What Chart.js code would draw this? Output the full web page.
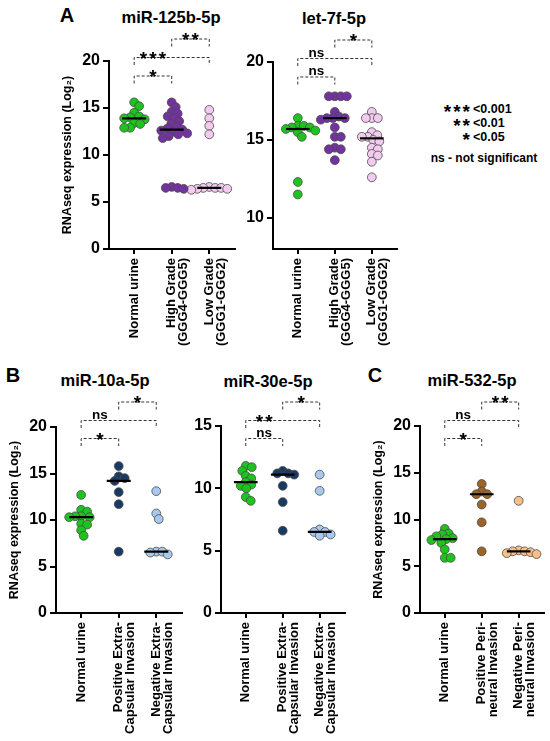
<!DOCTYPE html>
<html>
<head>
<meta charset="utf-8">
<script src="https://cdn.jsdelivr.net/npm/chart.js@4.4.0/dist/chart.umd.min.js"></script>
<style>
    body { margin: 0; background: #fff; width: 550px; height: 741px; position: relative; overflow: hidden;
           font-family: "Liberation Sans", Arial, sans-serif; }
    canvas { position: absolute; }
    .t { position: absolute; font-weight: bold; color: #000; white-space: nowrap; transform: translate(-50%, -50%); line-height: 1; }
    .stars { position: absolute; font-weight: bold; font-size: 19px; letter-spacing: 2px; line-height: 1; }
    .pv { position: absolute; font-weight: bold; font-size: 12.5px; line-height: 1; }
</style>
</head>
<body>
<div class="t" style="left:67px;top:15px;font-size:20px">A</div>
<div class="t" style="left:171px;top:17px;font-size:16.5px">miR-125b-5p</div>
<div class="t" style="left:334px;top:18px;font-size:16.5px">let-7f-5p</div>
<div class="t" style="left:13px;top:375px;font-size:20px">B</div>
<div class="t" style="left:105px;top:380px;font-size:16.5px">miR-10a-5p</div>
<div class="t" style="left:268px;top:381px;font-size:16.5px">miR-30e-5p</div>
<div class="t" style="left:375px;top:375px;font-size:20px">C</div>
<div class="t" style="left:472px;top:380px;font-size:16.5px">miR-532-5p</div>

<div class="stars" style="right:78px;top:102px">***</div><div class="pv" style="left:473px;top:103px">&lt;0.001</div>
<div class="stars" style="right:78px;top:116px">**</div><div class="pv" style="left:473px;top:117px">&lt;0.01</div>
<div class="stars" style="right:78px;top:130px">*</div><div class="pv" style="left:473px;top:131px">&lt;0.05</div>
<div class="t" style="left:484px;top:158px;font-size:12px">ns - not significant</div>

<canvas id="a1"></canvas>
<canvas id="a2"></canvas>
<canvas id="b1"></canvas>
<canvas id="b2"></canvas>
<canvas id="c1"></canvas>

<script>
// categories
const groupsA = ['Normal urine', ['High Grade', '(GGG4-GGG5)'], ['Low Grade', '(GGG1-GGG2)']];
const groupsB = ['Normal urine', ['Positive Extra-', 'Capsular Invasion'], ['Negative Extra-', 'Capsular Invasion']];
const groupsC = ['Normal urine', ['Positive Peri-', 'neural Invasion'], ['Negative Peri-', 'neural Invasion']];

// miR-125b-5p
const mir125Normal = [15.6, 15.2, 14.5, 14.1, 14.0, 13.9, 13.8, 13.4, 13.3, 12.9, 12.9];
const mir125High = [15.6, 15.1, 14.6, 14.4, 14.1, 13.9, 13.6, 13.3, 13.0, 12.8, 12.7, 12.6, 12.5, 12.3, 12.2, 12.0, 11.8, 6.6, 6.5, 6.5, 6.4];
const mir125Low = [14.8, 13.9, 13.1, 12.2, 6.6, 6.5, 6.5, 6.5, 6.4, 6.4, 6.3];

// let-7f-5p
const let7Normal = [16.4, 15.9, 15.9, 15.8, 15.8, 15.7, 15.6, 15.5, 15.2, 12.3, 11.5];
const let7High = [17.8, 17.8, 17.8, 17.8, 16.8, 16.5, 16.4, 16.4, 16.4, 16.3, 15.8, 15.2, 15.2, 14.5, 14.4, 14.4, 13.7];
const let7Low = [16.8, 16.4, 16.4, 16.4, 15.5, 15.3, 15.2, 15.2, 15.0, 14.9, 14.5, 14.4, 14.1, 14.0, 13.6, 12.6];

// miR-10a-5p
const mir10Normal = [12.7, 11.1, 10.9, 10.4, 10.4, 10.3, 10.3, 9.6, 9.5, 8.9, 8.3];
const mir10Pos = [15.8, 14.7, 14.5, 14.2, 13.0, 11.7, 6.6];
const mir10Neg = [13.1, 10.7, 10.1, 6.6, 6.6, 6.5, 6.3];

// miR-30e-5p
const mir30Normal = [11.8, 11.7, 11.4, 11.0, 10.8, 10.5, 10.3, 10.2, 10.0, 9.3, 9.0];
const mir30Pos = [11.4, 11.2, 11.2, 11.1, 10.2, 8.9, 6.6];
const mir30Neg = [11.1, 9.8, 6.7, 6.5, 6.5, 6.3, 6.2];

// miR-532-5p
const mir532Normal = [9.0, 8.5, 8.4, 8.2, 8.0, 7.9, 7.8, 7.5, 6.8, 5.9, 5.9];
const mir532Pos = [13.8, 13.0, 12.7, 12.7, 11.6, 9.7, 6.6];
const mir532Neg = [12.0, 6.7, 6.6, 6.6, 6.5, 6.4, 6.3];

// y ticks
const ticks0to20 = [0, 5, 10, 15, 20];
const ticks8to20 = [10, 15, 20];
const ticks0to15 = [0, 5, 10, 15];

// significance: [group a, group b, label], bottom bracket first
const sig125 = [[1, 2, '*'], [1, 3, '***'], [2, 3, '**']];
const sigLet7 = [[1, 2, 'ns'], [1, 3, 'ns'], [2, 3, '*']];
const sig10 = [[1, 2, '*'], [1, 3, 'ns'], [2, 3, '*']];
const sig30 = [[1, 2, 'ns'], [1, 3, '**'], [2, 3, '*']];
const sig532 = [[1, 2, '*'], [1, 3, 'ns'], [2, 3, '**']];

const green = '#1fc31f';

Chart.defaults.font.family = '"Liberation Sans", Arial, sans-serif';
Chart.defaults.color = '#000';

function median(arr) {
    const s = [...arr].sort((a, b) => a - b);
    const m = Math.floor(s.length / 2);
    return s.length % 2 ? s[m] : (s[m - 1] + s[m]) / 2;
}

// simple beeswarm, offsets worked out in pixels
function swarm(values, center, xs, ys, gap) {
    const perX = (xs.right - xs.left) / (xs.max - xs.min);
    const placed = [];
    return values.map(v => {
        const py = ys.getPixelForValue(v);
        let dx = 0;
        for (let k = 0; k < 400; k++) {
            const cand = (k % 2 ? 1 : -1) * Math.ceil(k / 2) * 0.5;
            if (placed.every(p => (p.x - cand) ** 2 + (p.y - py) ** 2 >= gap * gap)) {
                dx = cand;
                break;
            }
        }
        placed.push({ x: dx, y: py });
        return { x: center + dx / perX, y: v };
    });
}

const bracketPlugin = {
    id: 'brackets',
    afterDraw(chart) {
        const cfg = chart.options.plugins.brackets;
        if (!cfg) return;
        const ctx = chart.ctx;
        const xs = chart.scales.x;
        const top = chart.chartArea.top;
        ctx.save();
        cfg.sig.forEach((s, i) => {
            const y = top + cfg.levels[i];
            const xa = xs.getPixelForValue(s[0]);
            const xb = xs.getPixelForValue(s[1]);
            ctx.setLineDash([3, 2]);
            ctx.lineWidth = 1;
            ctx.strokeStyle = '#333';
            ctx.beginPath();
            ctx.moveTo(xa, y + 7.5);
            ctx.lineTo(xa, y);
            ctx.lineTo(xb, y);
            ctx.lineTo(xb, y + 7.5);
            ctx.stroke();
            ctx.setLineDash([]);
            const lx = xs.getPixelForValue(s[0] + 0.5);
            ctx.fillStyle = '#000';
            ctx.textAlign = 'center';
            ctx.textBaseline = 'alphabetic';
            if (s[2] === 'ns') {
                ctx.font = 'bold 13.5px "Liberation Sans", Arial, sans-serif';
                ctx.fillText('ns', lx, y - 2);
            } else {
                ctx.font = 'bold 19px "Liberation Sans", Arial, sans-serif';
                ctx.letterSpacing = '2px';
                ctx.fillText(s[2], lx + 1, y + 7);
                ctx.letterSpacing = '0px';
            }
        });
        ctx.restore();
    }
};

function makePanel(p) {
    const canvas = document.getElementById(p.id);
    canvas.width = p.w;
    canvas.height = p.h;
    canvas.style.left = p.left + 'px';
    canvas.style.top = p.top + 'px';
    canvas.style.width = p.w + 'px';
    canvas.style.height = p.h + 'px';

    const datasets = [];
    p.series.forEach((vals, i) => {
        const m = median(vals);
        datasets.push({
            type: 'line',
            data: [{ x: i + 1 - 0.32, y: m }, { x: i + 1 + 0.32, y: m }],
            borderColor: '#000',
            borderWidth: 2.2,
            pointRadius: 0,
            order: 0
        });
    });
    p.series.forEach((vals, i) => {
        datasets.push({
            type: 'scatter',
            data: [],
            backgroundColor: p.colors[i],
            borderColor: '#4a4a4a',
            borderWidth: 0.8,
            pointRadius: 4.4,
            order: 1
        });
    });

    const chart = new Chart(canvas.getContext('2d'), {
        type: 'scatter',
        data: { datasets: datasets },
        options: {
            responsive: false,
            animation: false,
            layout: { padding: { top: p.areaTop - p.top, right: p.left + p.w - p.areaRight, left: 0, bottom: 0 } },
            plugins: {
                legend: { display: false },
                tooltip: { enabled: false },
                brackets: { sig: p.sig, levels: p.levels }
            },
            scales: {
                x: {
                    type: 'linear',
                    min: 0.33,
                    max: 3.68,
                    afterBuildTicks: s => { s.ticks = [1, 2, 3].map(v => ({ value: v })); },
                    afterFit: s => { s.height = p.top + p.h - p.areaBottom; },
                    ticks: {
                        callback: v => p.groups[v - 1],
                        minRotation: 90,
                        maxRotation: 90,
                        autoSkip: false,
                        padding: 4,
                        font: { size: 13, weight: 'bold', lineHeight: 0.92 }
                    },
                    grid: { drawOnChartArea: false, tickLength: 5, color: '#000', lineWidth: 2 },
                    border: { color: '#000', width: 2 }
                },
                y: {
                    min: p.yMin,
                    max: p.yMax,
                    afterBuildTicks: s => { s.ticks = p.yTicks.map(v => ({ value: v })); },
                    afterFit: s => { s.width = p.areaLeft - p.left; },
                    ticks: { padding: 3, font: { size: 16, weight: 'bold' } },
                    grid: { drawOnChartArea: false, tickLength: 6, color: '#000', lineWidth: 2 },
                    border: { color: '#000', width: 2 },
                    title: {
                        display: p.yTitle,
                        text: 'RNAseq expression (Log\u2082)',
                        padding: 0,
                        font: { size: 12.5, weight: 'bold' }
                    }
                }
            }
        },
        plugins: [bracketPlugin]
    });

    const xs = chart.scales.x, ys = chart.scales.y;
    p.series.forEach((vals, i) => {
        chart.data.datasets[p.series.length + i].data = swarm(vals, i + 1, xs, ys, 6.0);
    });
    chart.update('none');
    return chart;
}

makePanel({
    id: 'a1', left: 60, top: 0, w: 180, h: 355,
    areaLeft: 109, areaTop: 61, areaRight: 235, areaBottom: 249,
    yMin: 0, yMax: 20, yTicks: ticks0to20, yTitle: true,
    groups: groupsA, series: [mir125Normal, mir125High, mir125Low],
    colors: [green, '#7232a0', '#f3cbef'],
    sig: sig125, levels: [15, -3.5, -22]
});
makePanel({
    id: 'a2', left: 245, top: 0, w: 160, h: 355,
    areaLeft: 273, areaTop: 62, areaRight: 397, areaBottom: 249,
    yMin: 8, yMax: 20, yTicks: ticks8to20, yTitle: false,
    groups: groupsA, series: [let7Normal, let7High, let7Low],
    colors: [green, '#7232a0', '#f3cbef'],
    sig: sigLet7, levels: [15, -3.5, -22]
});
makePanel({
    id: 'b1', left: 7, top: 385, w: 180, h: 356,
    areaLeft: 56, areaTop: 427, areaRight: 182, areaBottom: 613,
    yMin: 0, yMax: 20, yTicks: ticks0to20, yTitle: true,
    groups: groupsB, series: [mir10Normal, mir10Pos, mir10Neg],
    colors: [green, '#1b3a63', '#a8c8ec'],
    sig: sig10, levels: [11.5, -6.5, -25]
});
makePanel({
    id: 'b2', left: 192, top: 385, w: 158, h: 356,
    areaLeft: 221, areaTop: 426, areaRight: 345, areaBottom: 613,
    yMin: 0, yMax: 15, yTicks: ticks0to15, yTitle: false,
    groups: groupsB, series: [mir30Normal, mir30Pos, mir30Neg],
    colors: [green, '#1b3a63', '#a8c8ec'],
    sig: sig30, levels: [12.5, -5.5, -24]
});
makePanel({
    id: 'c1', left: 371, top: 385, w: 178, h: 356,
    areaLeft: 420, areaTop: 426, areaRight: 545, areaBottom: 613,
    yMin: 0, yMax: 20, yTicks: ticks0to20, yTitle: true,
    groups: groupsC, series: [mir532Normal, mir532Pos, mir532Neg],
    colors: [green, '#9c6426', '#f7c08b'],
    sig: sig532, levels: [12.5, -5.5, -24]
});
</script>
</body>
</html>
